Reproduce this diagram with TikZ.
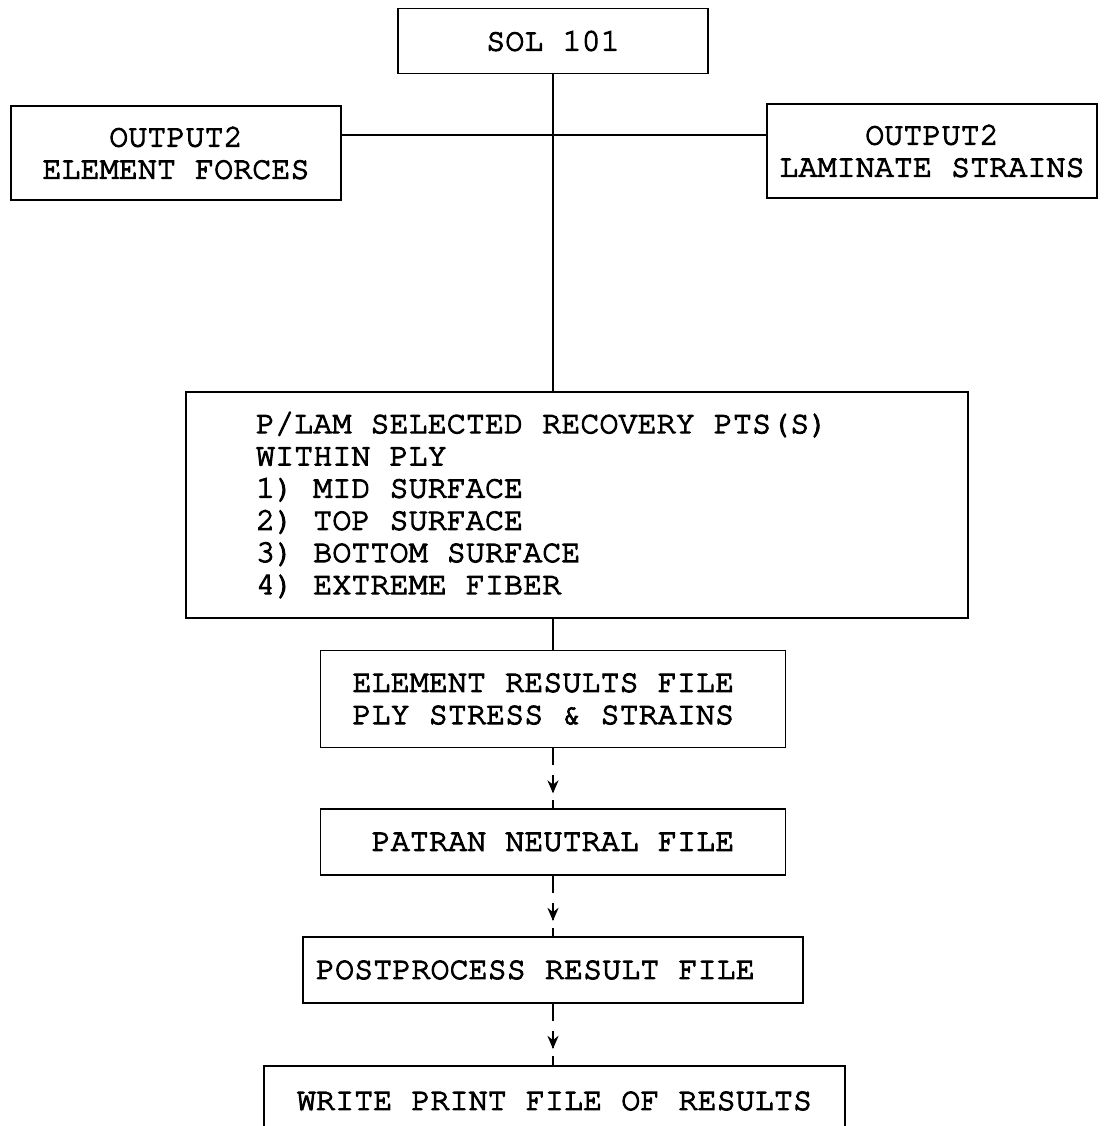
\documentclass[tikz,border=0pt]{standalone}
\usepackage{fontspec}
\setmonofont{TeX Gyre Cursor}[FakeBold=3.5]
\usetikzlibrary{arrows.meta,decorations.markings}
\begin{document}
\begin{tikzpicture}[x=1pt,y=-1pt,
  box/.style={draw,line width=1.8pt,inner sep=0pt,
    font=\fontsize{31.8}{32.2}\selectfont\ttfamily},
  flow/.style={line width=1.8pt},
  dflow/.style={line width=2.2pt,
    dash pattern=on 17pt off 10pt on 17pt off 8pt on 30pt,
    postaction={decorate},
    decoration={markings,
      mark=at position 45pt with {\arrow{Stealth[length=13pt,width=11pt]}}}}
]
\useasboundingbox (0,0) rectangle (1104,1126);
\clip (0,0) rectangle (1104,1126);

\node[box,minimum width=310,minimum height=65] (sol) at (553,41) {SOL 101};
\node[box,minimum width=330,minimum height=94,align=center] (lft) at (176,153)
  {OUTPUT2\\ELEMENT FORCES};
\node[box,minimum width=330,minimum height=94,align=center] (rgt) at (932,151)
  {OUTPUT2\\LAMINATE STRAINS};
\node[box,minimum width=782,minimum height=226,align=left] (plam) at (577,505)
  {\makebox[642pt][l]{P/LAM SELECTED RECOVERY PTS(S)}\\WITHIN PLY\\1) MID SURFACE\\2) TOP SURFACE\\3) BOTTOM SURFACE\\4) EXTREME FIBER};
\node[box,minimum width=465,minimum height=97,align=left] (elem) at (553,699)
  {\makebox[401pt][l]{ELEMENT RESULTS FILE}\\PLY STRESS \& STRAINS};
\node[box,minimum width=465,minimum height=66] (patran) at (553,842) {PATRAN NEUTRAL FILE};
\node[box,minimum width=500,minimum height=66,align=left] (post) at (553,970)
  {\makebox[474pt][l]{POSTPROCESS RESULT FILE}};
\node[box,minimum width=581,minimum height=70] (write) at (554.5,1101) {WRITE PRINT FILE OF RESULTS};

\coordinate (hy) at (553,135);
\draw[flow] (sol.south) -- (sol.south |- plam.north);
\draw[flow] (lft.east |- hy) -- (rgt.west |- hy);
\draw[flow] (plam.south -| elem.north) -- (elem.north);
\draw[dflow] (elem.south) -- (patran.north);
\draw[dflow] (patran.south) -- (post.north -| patran.south);
\draw[dflow] (post.south -| patran.south) -- (write.north -| patran.south);
\end{tikzpicture}
\end{document}
